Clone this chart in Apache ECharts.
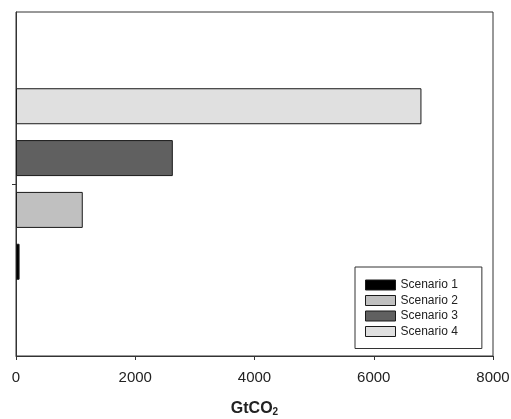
<!DOCTYPE html>
<html>
<head>
<meta charset="utf-8">
<script src="https://cdn.jsdelivr.net/npm/echarts@6/dist/echarts.min.js"></script>
<style>
  html, body { margin: 0; padding: 0; background: #fff; }
  #chart { width: 511px; height: 419px; }
</style>
</head>
<body>
<div id="chart"></div>
<script>
const scenarios = ['Scenario 1', 'Scenario 2', 'Scenario 3', 'Scenario 4'];
const emissions = [60, 1120, 2630, 6800];
const fills = ['#000000', '#c0c0c0', '#606060', '#e0e0e0'];
const xTicks = [0, 2000, 4000, 6000, 8000];

document.addEventListener('DOMContentLoaded', () => {
    const chart = echarts.init(document.getElementById('chart'));

    // first series is drawn at the top, so Scenario 4 goes first
    const series = scenarios.map((name, i) => ({
        name: name,
        type: 'bar',
        data: [emissions[i]],
        barWidth: 36,
        barGap: '44%',
        itemStyle: {
            color: fills[i],
            borderColor: '#1a1a1a',
            borderWidth: 1
        }
    })).reverse();

    chart.setOption({
        animation: false,
        textStyle: { fontFamily: 'Liberation Sans, Arial, sans-serif' },
        grid: {
            left: 16, right: 18, top: 12, bottom: 63,
            outerBoundsMode: 'none',
            containLabel: false,
            show: true,
            borderColor: '#333',
            borderWidth: 1
        },
        legend: {
            orient: 'vertical',
            left: 355,
            top: 267,
            width: 127,
            padding: [12, 24, 11, 10],
            backgroundColor: '#fff',
            borderColor: '#333',
            borderWidth: 1,
            itemWidth: 30,
            itemHeight: 10,
            itemGap: 3.5,
            icon: 'rect',
            itemStyle: { borderColor: '#1a1a1a', borderWidth: 1 },
            textStyle: { fontSize: 12, color: '#222' },
            data: scenarios
        },
        xAxis: {
            type: 'value',
            min: xTicks[0],
            max: xTicks[xTicks.length - 1],
            interval: 2000,
            name: 'GtCO{sub|2}',
            nameLocation: 'middle',
            nameGap: 44,
            nameTextStyle: {
                fontSize: 16,
                fontWeight: 'bold',
                color: '#222',
                rich: {
                    sub: { fontSize: 10, fontWeight: 'bold', color: '#222', verticalAlign: 'bottom', padding: [7, 0, 0, 0] }
                }
            },
            splitLine: { show: false },
            axisLine: { show: true, lineStyle: { color: '#333' } },
            axisTick: { show: true, length: 4, lineStyle: { color: '#333' } },
            axisLabel: { margin: 14, fontSize: 15, color: '#222', formatter: v => String(v) }
        },
        yAxis: {
            type: 'category',
            data: [''],
            axisLine: { show: true, lineStyle: { color: '#333' } },
            axisTick: { show: true, alignWithLabel: true, length: 4, lineStyle: { color: '#333' } },
            axisLabel: { show: false }
        },
        series: series
    });

    window.addEventListener('resize', () => chart.resize());
});
</script>
</body>
</html>
